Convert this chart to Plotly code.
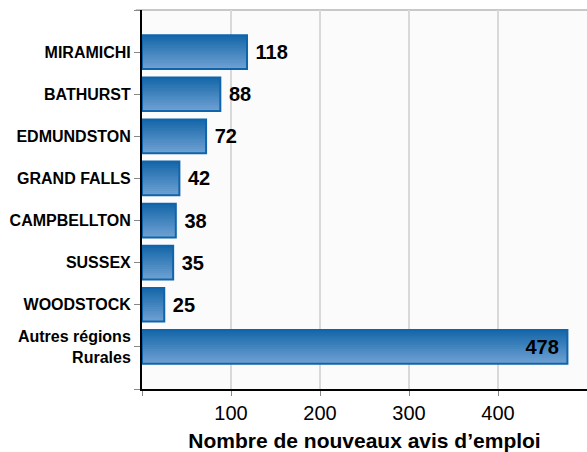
import plotly.graph_objects as go

categories = ["MIRAMICHI", "BATHURST", "EDMUNDSTON", "GRAND FALLS", "CAMPBELLTON",
              "SUSSEX", "WOODSTOCK", "Autres régions<br>Rurales"]
values = [118, 88, 72, 42, 38, 35, 25, 478]
x_tick_vals = [0, 100, 200, 300, 400]
x_tick_text = ["", "100", "200", "300", "400"]
x_title = "Nombre de nouveaux avis d’emploi"

ypos = list(range(len(categories)))
bar_w = 0.8
n_slices = 16
top_rgb = (22, 104, 170)
bot_rgb = (110, 160, 210)

fig = go.Figure()
sw = bar_w / n_slices
for i in range(n_slices):
    t = i / (n_slices - 1)
    c = tuple(round(a + (b - a) * t) for a, b in zip(top_rgb, bot_rgb))
    # each slice runs from its start to the bottom of the bar, painted over the previous
    fig.add_trace(go.Bar(
        x=values, y=ypos, orientation="h",
        width=bar_w - i * sw, offset=-bar_w / 2 + i * sw,
        marker=dict(color="rgb(%d,%d,%d)" % c, line=dict(width=0)),
        hoverinfo="skip", showlegend=False))

text_pos = ["inside" if v > 300 else "outside" for v in values]
texts = [(f"{v} " if p == "inside" else f" {v}") for v, p in zip(values, text_pos)]
fig.add_trace(go.Bar(
    x=values, y=ypos, orientation="h", width=bar_w,
    marker=dict(color="rgba(0,0,0,0)", line=dict(color="#0f64ab", width=2)),
    text=texts, textposition=text_pos, insidetextanchor="end",
    textfont=dict(family="Liberation Sans Narrow, Arial Narrow, Liberation Sans, Arial",
                  size=20, color="black", weight="bold"),
    insidetextfont=dict(color="black"), outsidetextfont=dict(color="black"),
    cliponaxis=False, showlegend=False))

fig.update_layout(
    barmode="overlay",
    width=587, height=452,
    margin=dict(l=142, r=0, t=10, b=63),
    paper_bgcolor="white", plot_bgcolor="#fbfbfb",
    font=dict(family="Arial, Liberation Sans, sans-serif", color="black"),
    xaxis=dict(range=[0, 500], tickvals=x_tick_vals, ticktext=x_tick_text,
               automargin=False,
               showgrid=True, gridcolor="#d9d9d9", gridwidth=2, zeroline=False,
               showline=True, linecolor="black", linewidth=2,
               ticks="outside", ticklen=5, tickcolor="#888",
               tickfont=dict(size=20),
               title=dict(text=x_title, font=dict(size=21, weight="bold"), standoff=10)),
    yaxis=dict(range=[8, -1], tickvals=[-1] + ypos + [8],
               ticktext=[""] + categories + [""],
               automargin=False,
               showgrid=False, zeroline=False,
               showline=True, linecolor="black", linewidth=2,
               ticks="outside", ticklen=6, tickcolor="#888",
               tickfont=dict(size=16, weight="bold")),
    shapes=[dict(type="line", xref="paper", yref="paper", x0=-0.014, x1=1, y0=1, y1=1,
                 line=dict(color="#c8c8c8", width=2), layer="below")],
)

fig.write_html("out.html", config={"displayModeBar": False},
               post_script="document.body.style.margin='0';")
